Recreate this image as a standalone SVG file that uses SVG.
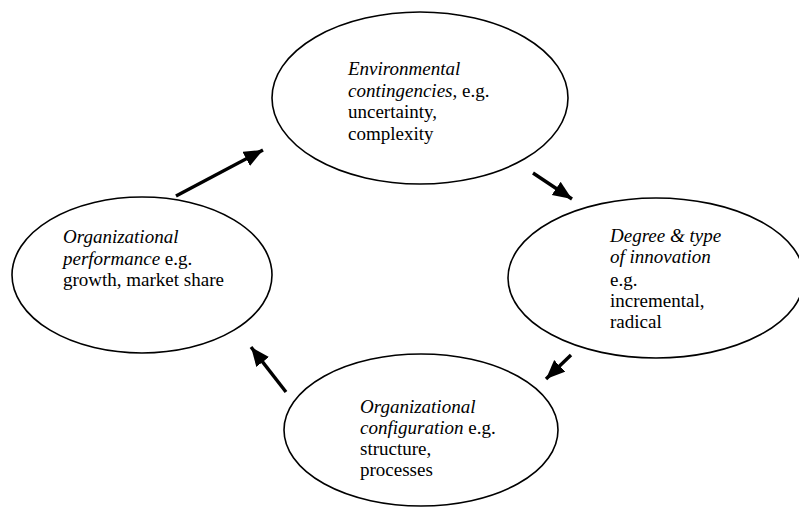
<svg xmlns="http://www.w3.org/2000/svg" width="799" height="507" viewBox="0 0 799 507">
<style>
.node ellipse{fill:#fff;stroke:#000;stroke-width:1.6}
text{font-family:"Liberation Serif","Times New Roman",serif;font-size:19px;fill:#000}
.it{font-style:italic}
.conn line{stroke:#000;stroke-width:3.4}
</style>
<defs>
<marker id="ah" markerUnits="userSpaceOnUse" markerWidth="22" markerHeight="18" refX="19" refY="8" orient="auto">
<path d="M0,0 L19,8 L0,16 Z" fill="#000"/>
</marker>
</defs>
<rect width="799" height="507" fill="#fff"/>
<g id="env" class="node">
<ellipse cx="420" cy="98" rx="148" ry="86"/>
<text x="348" y="75" class="it">Environmental</text>
<text x="348" y="97"><tspan class="it">contingencies</tspan>, e.g.</text>
<text x="348" y="118">uncertainty,</text>
<text x="348" y="140">complexity</text>
</g>
<g id="innov" class="node">
<ellipse cx="656" cy="278" rx="148" ry="80"/>
<text x="610" y="242" class="it">Degree &amp; type</text>
<text x="610" y="263" class="it">of innovation</text>
<text x="610" y="286">e.g.</text>
<text x="610" y="307">incremental,</text>
<text x="610" y="328">radical</text>
</g>
<g id="config" class="node">
<ellipse cx="421" cy="430" rx="137" ry="76"/>
<text x="360" y="413" class="it">Organizational</text>
<text x="360" y="434"><tspan class="it">configuration</tspan> e.g.</text>
<text x="360" y="455">structure,</text>
<text x="360" y="476">processes</text>
</g>
<g id="perf" class="node">
<ellipse cx="142" cy="275" rx="130" ry="78"/>
<text x="63" y="243" class="it">Organizational</text>
<text x="63" y="265"><tspan class="it">performance</tspan> e.g.</text>
<text x="63" y="286">growth, market share</text>
</g>
<g id="connectors" class="conn">
<line x1="176" y1="196" x2="263" y2="150" marker-end="url(#ah)"/>
<line x1="533" y1="173" x2="572" y2="199" marker-end="url(#ah)"/>
<line x1="571" y1="355" x2="546" y2="379" marker-end="url(#ah)"/>
<line x1="286" y1="392" x2="251" y2="347" marker-end="url(#ah)"/>
</g>
</svg>
